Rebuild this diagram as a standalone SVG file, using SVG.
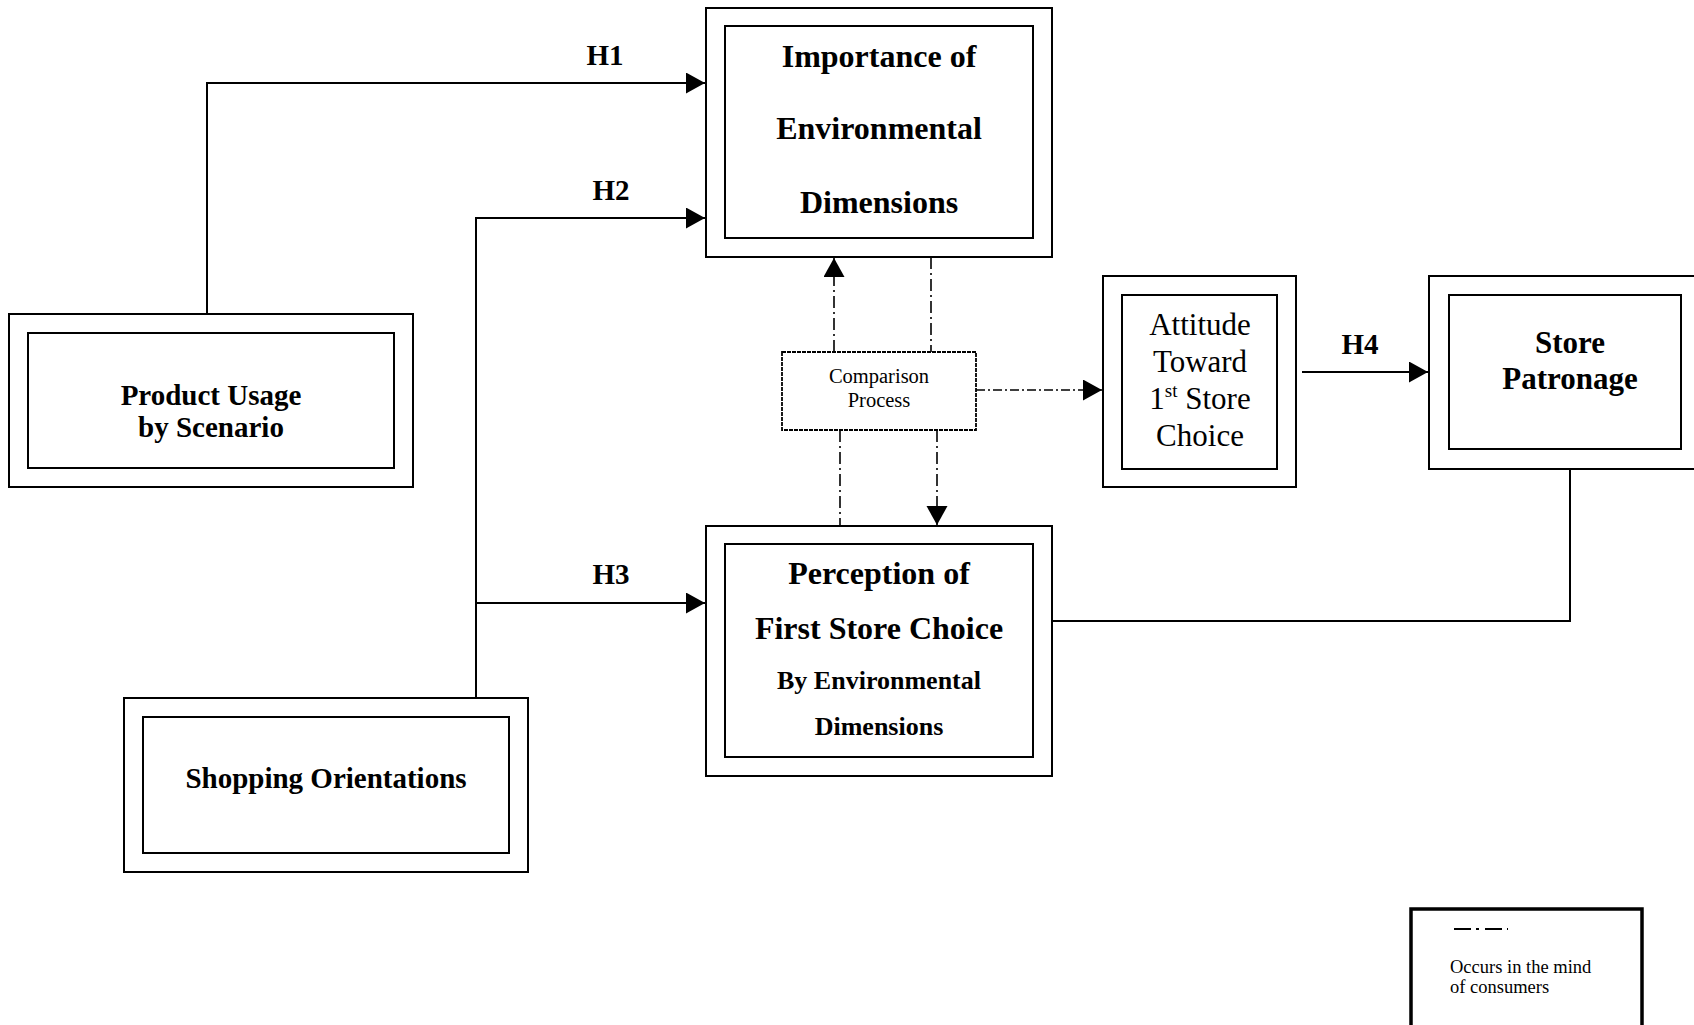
<svg xmlns="http://www.w3.org/2000/svg" width="1694" height="1025" viewBox="0 0 1694 1025">
<style>
  .box { fill: #fff; stroke: #000; stroke-width: 2; }
  .t { font-family: "Liberation Serif", "Times New Roman", serif; fill: #000; text-anchor: middle; }
  .b { font-weight: bold; }
  .solid { fill: none; stroke: #000; stroke-width: 2; }
  .dd { fill: none; stroke: #000; stroke-width: 1.6; stroke-dasharray: 12 4 2 4; }
  .ddh { fill: none; stroke: #000; stroke-width: 1.6; stroke-dasharray: 9 3 2 3; }
</style>
<defs>
  <marker id="arr" markerUnits="userSpaceOnUse" markerWidth="22" markerHeight="22" refX="19" refY="10.5" orient="auto">
    <path d="M0,0 L19,10.5 L0,21 z" fill="#000"/>
  </marker>
</defs>
<rect x="0" y="0" width="1694" height="1025" fill="#fff"/>

<g id="connectors">
  <path class="solid" d="M207,314 V83 H705" marker-end="url(#arr)"/>
  <path class="solid" d="M476,698 V218 H705" marker-end="url(#arr)"/>
  <path class="solid" d="M476,603 H705" marker-end="url(#arr)"/>
  <path class="solid" d="M1302,372 H1428" marker-end="url(#arr)"/>
  <path class="solid" d="M1570,469 V621 H1053"/>
  <path class="dd" d="M834,352 V258" marker-end="url(#arr)"/>
  <path class="dd" d="M931,257 V352"/>
  <path class="dd" d="M840,430 V526"/>
  <path class="dd" d="M937,430 V525" marker-end="url(#arr)"/>
  <path class="ddh" d="M976,390 H1102" marker-end="url(#arr)"/>
</g>

<g id="importance">
  <rect class="box" x="706" y="8" width="346" height="249"/>
  <rect class="box" x="725" y="26" width="308" height="212"/>
  <text class="t b" x="879" y="67" font-size="32">Importance of</text>
  <text class="t b" x="879" y="139" font-size="32">Environmental</text>
  <text class="t b" x="879" y="213" font-size="32">Dimensions</text>
</g>

<g id="product-usage">
  <rect class="box" x="9" y="314" width="404" height="173"/>
  <rect class="box" x="28" y="333" width="366" height="135"/>
  <text class="t b" x="211" y="405" font-size="29">Product Usage</text>
  <text class="t b" x="211" y="437" font-size="29">by Scenario</text>
</g>

<g id="shopping">
  <rect class="box" x="124" y="698" width="404" height="174"/>
  <rect class="box" x="143" y="717" width="366" height="136"/>
  <text class="t b" x="326" y="788" font-size="29">Shopping Orientations</text>
</g>

<g id="comparison">
  <rect x="782" y="352" width="194" height="78" fill="#fff" stroke="#000" stroke-width="1.8" stroke-dasharray="4 1"/>
  <text class="t" x="879" y="383" font-size="20.5">Comparison</text>
  <text class="t" x="879" y="407" font-size="20.5">Process</text>
</g>

<g id="attitude">
  <rect class="box" x="1103" y="276" width="193" height="211"/>
  <rect class="box" x="1122" y="295" width="155" height="174"/>
  <text class="t" x="1200" y="335" font-size="31">Attitude</text>
  <text class="t" x="1200" y="372" font-size="31">Toward</text>
  <text class="t" x="1200" y="409" font-size="31">1<tspan font-size="19" dy="-12">st</tspan><tspan dy="12"> Store</tspan></text>
  <text class="t" x="1200" y="446" font-size="31">Choice</text>
</g>

<g id="store-patronage">
  <rect class="box" x="1429" y="276" width="280" height="193"/>
  <rect class="box" x="1449" y="295" width="232" height="154"/>
  <text class="t b" x="1570" y="353" font-size="31">Store</text>
  <text class="t b" x="1570" y="389" font-size="31">Patronage</text>
</g>

<g id="perception">
  <rect class="box" x="706" y="526" width="346" height="250"/>
  <rect class="box" x="725" y="544" width="308" height="213"/>
  <text class="t b" x="879" y="584" font-size="32">Perception of</text>
  <text class="t b" x="879" y="639" font-size="32">First Store Choice</text>
  <text class="t b" x="879" y="689" font-size="26">By Environmental</text>
  <text class="t b" x="879" y="735" font-size="26">Dimensions</text>
</g>

<g id="labels">
  <text class="t b" x="605" y="65" font-size="29">H1</text>
  <text class="t b" x="611" y="200" font-size="29">H2</text>
  <text class="t b" x="611" y="584" font-size="29">H3</text>
  <text class="t b" x="1360" y="354" font-size="29">H4</text>
</g>

<g id="legend">
  <rect x="1411" y="909" width="231" height="130" fill="#fff" stroke="#000" stroke-width="3.5"/>
  <path d="M1454,929 H1508" fill="none" stroke="#000" stroke-width="2" stroke-dasharray="17 5 3 6"/>
  <text class="t" x="1450" y="973" font-size="18.5" style="text-anchor:start">Occurs in the mind</text>
  <text class="t" x="1450" y="993" font-size="18.5" style="text-anchor:start">of consumers</text>
</g>
</svg>
